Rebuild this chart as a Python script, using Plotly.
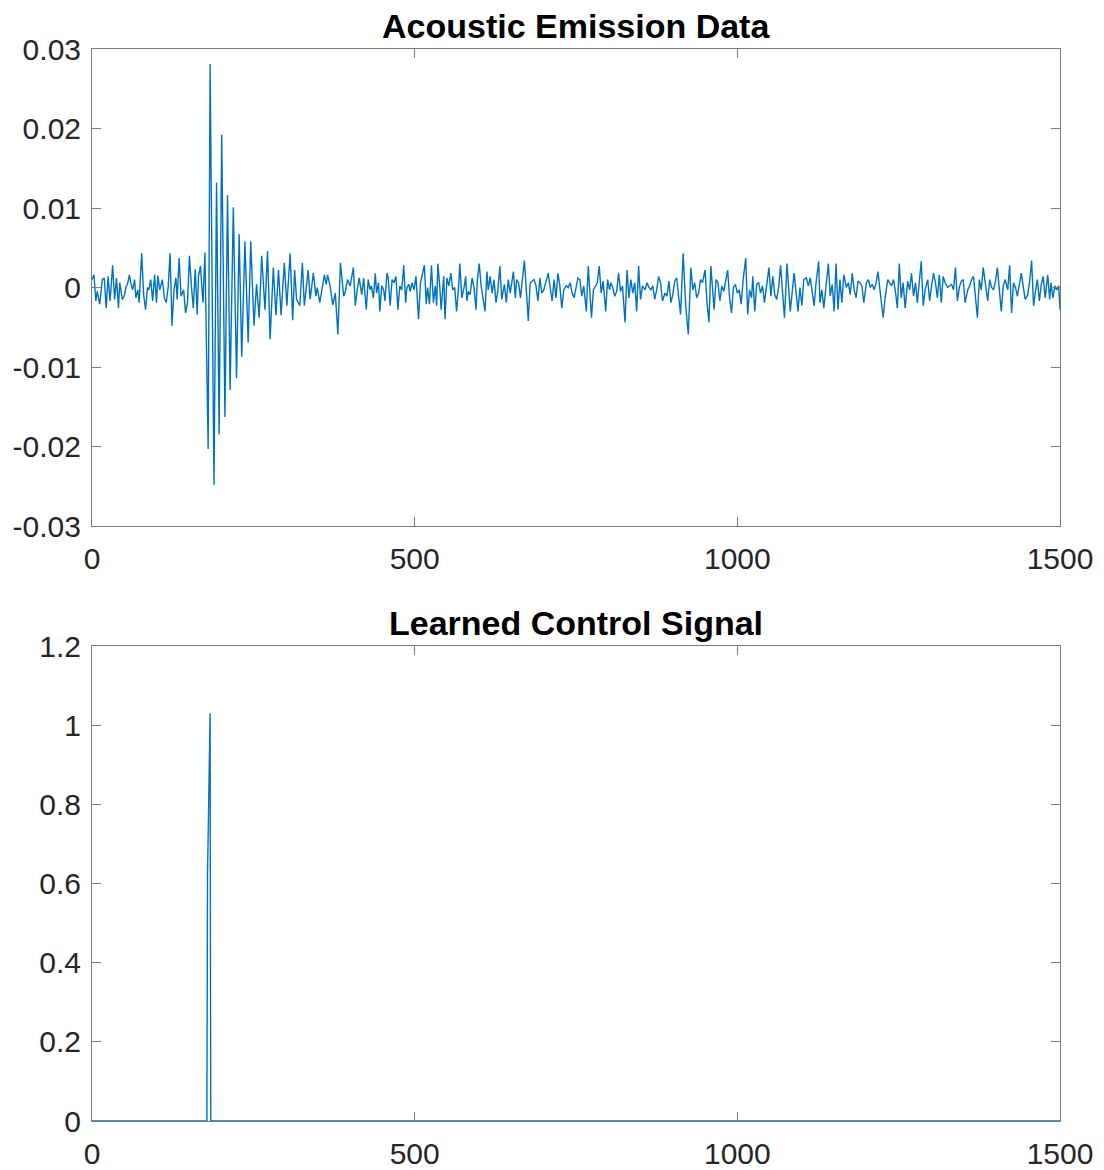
import plotly.graph_objects as go

# ---------------- data ----------------
# Acoustic emission signal: sample index and amplitude (in units of 1e-3)
pre_x = [0, 3, 6, 8, 12, 16, 19, 22, 25, 28, 32, 35, 38, 41, 43, 47, 50, 53, 55, 58,
         60, 63, 66, 68, 71, 73, 77, 80, 83, 86, 88, 91, 94, 97, 100, 102, 105, 109, 112, 115,
         118, 121, 124, 127, 130, 132, 135, 138, 142, 145, 148, 151, 154, 157, 160, 163, 165, 168, 172, 175]
pre_y = [1.0, 1.6, -1.7, -0.5, -2.1, 1.0, 1.2, -2.6, 1.4, -1.7, 2.8, -1.5, 1.2, -2.6, 0.6, -1.5, -1.1, 0.2, 0.4, 1.6,
         0.6, -0.3, 1.0, -1.3, -0.3, -1.9, 4.3, -0.9, -2.8, 0.0, -0.3, 1.0, -1.7, 1.6, -1.9, 1.5, -0.3, 1.0, -1.3, -1.9,
         0.0, 4.3, -4.8, -0.3, 1.2, -1.5, 3.7, -1.1, -0.3, -3.2, -1.9, 4.0, 0.2, -2.6, 2.3, -3.4, 1.4, 2.7, -1.9, 4.4]

burst_x = [180, 183, 189, 193, 197, 201, 206, 210, 214, 219, 224, 228, 232, 237, 242, 246, 251, 255, 259, 263,
           268, 272, 276, 281, 285, 289, 293, 298, 302, 307, 311, 314, 317, 322, 326, 329, 335, 338, 343, 347,
           349, 353, 360, 363, 365, 369, 373, 377, 381, 385, 390, 392, 396, 400, 405, 408, 411, 414, 418, 421,
           425, 428]
burst_y = [-20.3, 28.1, -24.8, 13.2, -18.5, 19.2, -16.3, 11.6, -12.9, 10.1, -11.4, 6.7, -8.7, 5.8, -6.9, 5.8, -4.8, 0.4, -3.8, 4.0,
           -2.8, 4.6, -6.5, 2.5, -3.5, 2.2, -3.5, 3.1, -2.3, 4.3, -4.1, 2.2, -1.5, -2.3, 3.1, -2.3, 2.2, -1.5, 1.8, -1.1,
           0.0, -1.9, 1.6, 0.4, 1.6, 0.2, -2.2, -0.7, -5.9, 3.1, -1.1, -0.7, 1.0, 0.2, 2.5, -2.3, -0.3, 1.2, -0.9, 1.2,
           -2.8, 1.0]

mid_x = [431, 433, 436, 439, 441, 444, 446, 449, 452, 454, 457, 459, 462, 465, 468, 471, 474, 477, 480, 483,
         486, 488, 491, 493, 496, 499, 502, 506, 509, 515, 518, 520, 523, 526, 529, 532, 534, 536, 539, 541,
         545, 547, 550, 553, 556, 559, 562, 565, 568, 570, 573, 577, 579, 581, 583, 586, 589, 592, 595, 597,
         600, 603, 609, 612, 614, 617, 620, 623, 626, 629, 632, 635, 639, 642, 645, 648, 653, 656, 658, 661,
         664, 667, 670, 674, 676, 679, 682, 685, 688, 691, 694, 697, 700, 704, 707, 710, 713, 716, 719, 722,
         725, 728, 731, 735, 738, 741, 744, 747, 750, 753, 756, 759, 762, 766, 769, 772, 774, 777, 780, 783,
         786, 789, 792, 796, 799, 802, 804, 807, 810, 813, 816, 819, 822, 826, 829, 832, 835, 838, 841, 844,
         847, 850, 853, 857, 860, 863, 866, 869, 872, 875, 878, 881, 884, 888, 891, 894, 897, 900, 903, 906,
         909, 912, 916, 920, 924, 928, 931, 934, 937, 940, 943, 946, 950, 953, 956, 959]
mid_y = [-0.3, 0.2, -1.3, 1.8, -0.7, 0.6, -3.0, 0.2, -0.3, -1.7, 1.8, 1.2, -2.3, 1.0, 0.6, 1.4, -2.8, 0.2, -0.3, 2.8,
         -1.9, 0.0, 0.4, -0.5, 0.6, -0.3, 1.4, -4.0, 0.6, 2.8, -2.1, 0.0, -2.1, 2.8, -1.9, 0.2, -2.3, 3.0, 0.0, -2.8,
         1.4, -4.0, 1.2, 0.2, 1.8, -0.3, 0.0, -3.0, 0.0, 3.0, -1.3, 0.2, 1.4, -1.7, -0.5, -0.9, 1.2, 0.0, -2.8, 0.8,
         3.0, 0.2, -3.0, 2.0, -0.3, 1.4, -0.7, 1.0, -1.9, -0.3, 2.7, -1.5, 0.4, -1.9, 1.0, -0.7, 2.0, -1.3, 1.0, 0.6,
         -1.3, 1.0, 3.4, -1.5, -4.2, 0.6, 0.8, 1.0, 0.2, -1.7, 1.2, -0.7, -0.3, 1.0, 1.8, 0.0, -1.7, 1.0, -1.3, 1.8,
         0.2, -2.6, -0.3, 0.2, 0.0, 0.6, -0.7, -1.3, 0.0, 1.2, 1.0, -1.1, 0.2, -3.0, 2.7, -0.9, -3.8, -0.3, 0.2, 0.6,
         2.7, -0.7, 0.8, -3.0, 1.0, -0.3, 0.6, 0.0, -1.1, -0.5, 1.8, -0.5, 0.2, -4.4, 2.2, -1.3, 1.0, -0.7, 0.6, -3.0,
         2.7, -1.5, 0.2, -0.3, 0.6, 0.0, -0.3, 0.2, -1.5, -0.3, 1.4, 0.6, -1.7, -0.7, -1.1, 0.8, -1.9, -0.9, 0.8, 1.2,
         -1.1, -3.4, 4.3, -2.3, -5.9, 2.5, -0.3, 0.6, -1.3, -0.7, 1.0, 0.6, 2.2, -1.9, -4.4, 2.7]

end_x = [964, 967, 970, 973, 976, 979, 985, 988, 991, 994, 997, 1000, 1003, 1006, 1009, 1013, 1016, 1019, 1022, 1024,
         1027, 1030, 1033, 1036, 1039, 1042, 1049, 1052, 1055, 1058, 1061, 1064, 1067, 1073, 1077, 1082, 1088, 1094, 1097, 1100,
         1103, 1107, 1110, 1113, 1119, 1122, 1126, 1128, 1131, 1134, 1141, 1144, 1147, 1150, 1153, 1156, 1159, 1162, 1165, 1169,
         1172, 1175, 1178, 1181, 1184, 1187, 1190, 1193, 1196, 1200, 1203, 1206, 1209, 1212, 1215, 1218, 1221, 1226, 1229, 1233,
         1236, 1239, 1242, 1245, 1248, 1251, 1254, 1257, 1260, 1264, 1267, 1270, 1273, 1276, 1279, 1285, 1288, 1291, 1295, 1298,
         1301, 1304, 1307, 1310, 1313, 1316, 1319, 1322, 1326, 1329, 1332, 1335, 1338, 1341, 1344, 1347, 1350, 1353, 1357, 1360,
         1363, 1366, 1372, 1375, 1378, 1381, 1384, 1388, 1391, 1394, 1397, 1400, 1403, 1409, 1412, 1415, 1419, 1422, 1425, 1428,
         1431, 1434, 1440, 1443, 1446, 1450, 1453, 1456, 1459, 1462, 1465, 1468, 1471, 1474, 1477, 1481, 1484, 1486, 1489, 1492,
         1495, 1498, 1500]
end_y = [-2.8, 1.0, 0.6, -1.7, 0.2, -0.5, 2.2, -1.3, -3.2, 0.0, 0.4, -0.7, -0.3, -2.1, 1.0, 3.7, -3.4, -0.3, -1.3, 1.4,
         -3.0, 0.4, 0.6, -0.7, 0.2, -1.9, 2.5, -1.1, 1.4, -0.9, -1.5, 0.0, 2.8, -3.8, 3.0, -3.0, 1.8, -3.0, 0.0, -2.3,
         1.0, 1.2, 0.2, 1.2, -2.3, 0.6, 3.3, -1.9, -0.3, -2.6, 3.0, -1.1, 0.4, -3.0, 3.0, -2.8, 1.0, -1.9, 1.6, 0.0,
         0.6, -0.9, 1.8, -0.3, -1.3, 0.8, 0.6, 0.2, -1.9, 0.6, 1.0, 0.0, 0.4, -0.3, 0.6, 2.0, -0.3, -3.8, -1.3, 1.0,
         0.6, 0.2, 1.0, -0.5, -2.6, 3.0, -1.3, 0.6, -2.6, 0.8, -0.3, 1.8, -1.1, 0.6, -1.9, 3.3, -2.3, -0.3, 1.0, -1.7,
         0.2, 1.8, 0.6, -1.3, 1.6, -1.9, 1.4, 0.6, 0.0, 0.2, 0.4, -0.3, 2.5, -1.7, 0.0, 0.8, 1.0, -1.9, -0.3, 0.2,
         1.0, 1.4, -3.8, 1.0, -0.3, 2.5, 0.8, -1.7, 1.0, 0.0, -0.3, 0.8, 2.5, -3.0, 0.2, 1.0, -0.3, 2.8, -3.2, 0.6,
         0.0, -1.1, 1.8, 0.2, -1.5, -0.9, 0.8, 3.4, -2.3, -0.5, 1.0, -1.7, 0.4, 1.4, -1.3, 1.6, -1.5, 0.6, -1.3, 0.2,
         -0.3, 0.2, -2.8]

# Learned control signal (sample index, value)
ctrl_x = [0, 178, 179, 183, 184, 1500]
ctrl_y = [0, 0, 0.62, 1.03, 0, 0]

# Tick values / labels
x_ticks = [0, 500, 1000, 1500]
x_labels = ["0", "500", "1000", "1500"]
top_ticks = [-0.03, -0.02, -0.01, 0, 0.01, 0.02, 0.03]
top_labels = ["-0.03", "-0.02", "-0.01", "0", "0.01", "0.02", "0.03"]
bot_ticks = [0, 0.2, 0.4, 0.6, 0.8, 1.0, 1.2]
bot_labels = ["0", "0.2", "0.4", "0.6", "0.8", "1", "1.2"]

titles = ["Acoustic Emission Data", "Learned Control Signal"]

# ---------------- figure ----------------
ae_x = pre_x + burst_x + mid_x + end_x
ae_y = [v * 1e-3 for v in (pre_y + burst_y + mid_y + end_y)]

LINE = "#0072BD"
AX = "#7a7a7a"
TXT = "#262626"
FONT = "Liberation Sans, Arial, Helvetica, sans-serif"

fig = go.Figure()
fig.add_trace(go.Scatter(x=ae_x, y=ae_y, mode="lines", line=dict(color=LINE, width=1.4),
                         xaxis="x", yaxis="y", showlegend=False))
fig.add_trace(go.Scatter(x=ctrl_x, y=ctrl_y, mode="lines", line=dict(color=LINE, width=1.4),
                         xaxis="x2", yaxis="y2", showlegend=False))

common_x = dict(range=[0, 1500], tickvals=x_ticks, ticktext=x_labels, ticks="inside", ticklen=9,
                tickcolor=AX, showline=True, linecolor=AX, linewidth=1, mirror="ticks",
                showgrid=False, zeroline=False, automargin=False, ticklabelstandoff=6,
                tickfont=dict(size=30, color=TXT, family=FONT))
common_y = dict(ticks="inside", ticklen=9, tickcolor=AX, showline=True, linecolor=AX, linewidth=1,
                mirror="ticks", showgrid=False, zeroline=False, automargin=False, ticklabelstandoff=4,
                tickfont=dict(size=30, color=TXT, family=FONT))

H = 1170
T, B = 49, 49
ph = H - T - B
top_dom = [(1121 - 526) / ph, 1.0]
bot_dom = [0.0, (1121 - 646) / ph]

fig.update_layout(
    width=1104, height=1170,
    margin=dict(l=92, r=44, t=T, b=B, autoexpand=False),
    paper_bgcolor="white", plot_bgcolor="white",
    font=dict(family=FONT, color=TXT),
    xaxis=dict(domain=[0, 1], anchor="y", **common_x),
    yaxis=dict(domain=top_dom, anchor="x", range=[-0.03, 0.03], tickvals=top_ticks, ticktext=top_labels, **common_y),
    xaxis2=dict(domain=[0, 1], anchor="y2", **common_x),
    yaxis2=dict(domain=bot_dom, anchor="x2", range=[0, 1.2], tickvals=bot_ticks, ticktext=bot_labels, **common_y),
)

fig.add_annotation(text="<b>" + titles[0] + "</b>", x=0.5, xref="paper", y=top_dom[1], yref="paper",
                   yanchor="bottom", yshift=2, showarrow=False,
                   font=dict(size=34, color="black", family=FONT))
fig.add_annotation(text="<b>" + titles[1] + "</b>", x=0.5, xref="paper", y=bot_dom[1], yref="paper",
                   yanchor="bottom", yshift=2, showarrow=False,
                   font=dict(size=34, color="black", family=FONT))

fig.write_html("out.html")
